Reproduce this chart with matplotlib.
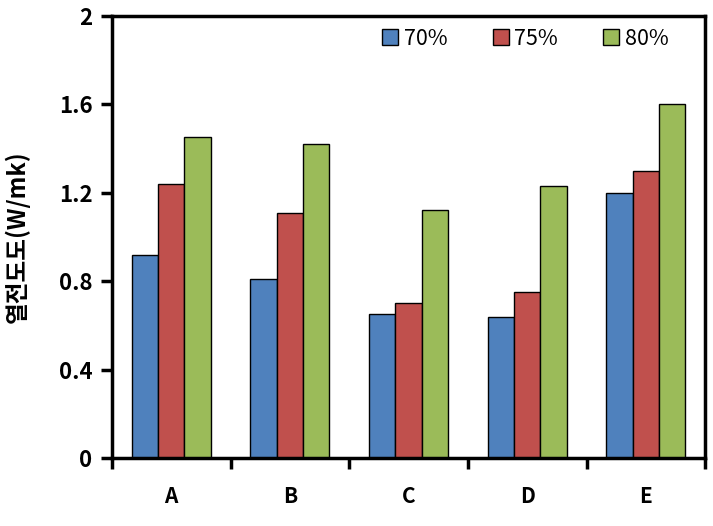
import numpy as np
import matplotlib
matplotlib.use("Agg")
import matplotlib.pyplot as plt

plt.rcParams['font.family'] = ['Noto Sans CJK KR', 'DejaVu Sans']

categories = ["A", "B", "C", "D", "E"]
series_names = ["70%", "75%", "80%"]
v70 = [0.92, 0.81, 0.65, 0.64, 1.20]
v75 = [1.24, 1.11, 0.70, 0.75, 1.30]
v80 = [1.45, 1.42, 1.12, 1.23, 1.60]
colors = ["#4F81BD", "#C0504D", "#9BBB59"]
yticks = [0, 0.4, 0.8, 1.2, 1.6, 2]
ytick_labels = ["0", "0.4", "0.8", "1.2", "1.6", "2"]

fig = plt.figure(figsize=(7.13, 5.26), dpi=100)
ax = fig.add_axes([0.157, 0.129, 0.832, 0.841])

x = np.arange(len(categories))
w = 0.222
for i, vals in enumerate([v70, v75, v80]):
    ax.bar(x + (i - 1) * w, vals, w, color=colors[i], edgecolor="black",
           linewidth=1.0, label=series_names[i], zorder=2)

ax.set_xlim(-0.5, len(categories) - 0.5)
ax.set_ylim(0, 2)
ax.set_yticks(yticks)
ax.set_yticklabels(ytick_labels, fontsize=16, fontweight="bold")

ax.set_xticks(x)
ax.set_xticklabels(categories, fontsize=15, fontweight="bold")
ax.tick_params(axis="x", which="major", length=0, pad=20)
ax.set_xticks(np.arange(-0.5, len(categories)), minor=True)
ax.tick_params(axis="x", which="minor", direction="out", length=8, width=2.5)
ax.tick_params(axis="y", direction="out", length=8, width=2.5, pad=6)

for s in ax.spines.values():
    s.set_linewidth(2.5)

ax.set_ylabel("열전도도(W/mk)", fontsize=17, fontweight="bold")
ax.yaxis.set_label_coords(-0.138, 0.5)

leg = ax.legend(loc="center", bbox_to_anchor=(0.697, 0.948), ncol=3,
                frameon=False, fontsize=15.5, handlelength=0.75, handleheight=0.75,
                handletextpad=0.25, columnspacing=2.1)

fig.savefig("out.png", dpi=100)
